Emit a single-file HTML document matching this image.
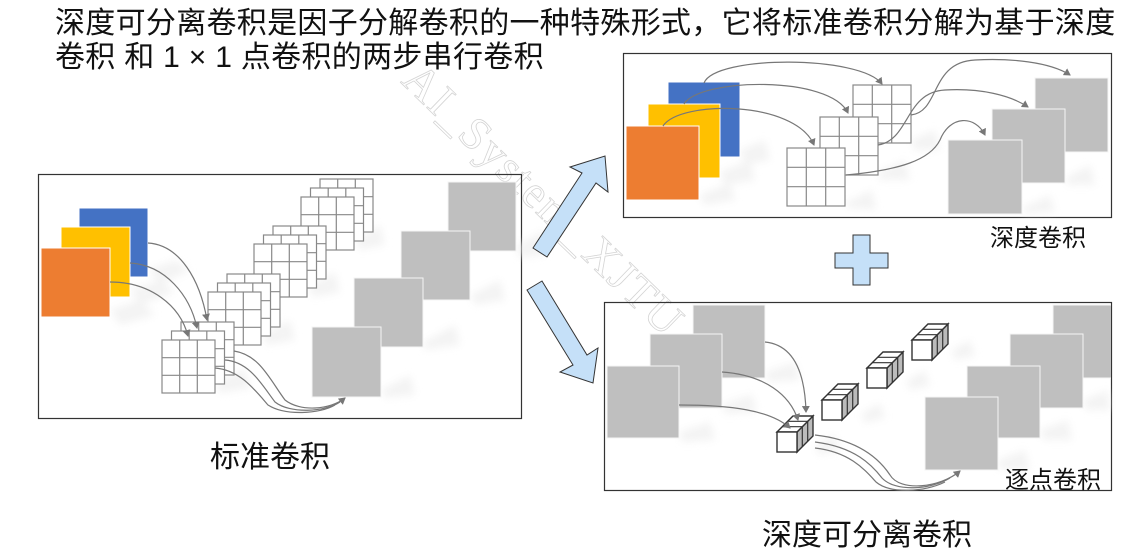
<!DOCTYPE html>
<html><head><meta charset="utf-8">
<style>
html,body{margin:0;padding:0;background:#fff;}
body{width:1145px;height:552px;overflow:hidden;position:relative;font-family:"Liberation Sans","Noto Sans CJK SC",sans-serif;}
.t{position:absolute;color:#111;white-space:nowrap;}
</style></head><body>
<div class="t" style="left:55px;top:7px;font-size:30px;letter-spacing:0.3px;line-height:34px;">深度可分离卷积是因子分解卷积的一种特殊形式，它将标准卷积分解为基于深度<br>卷积 和 1 × 1 点卷积的两步串行卷积</div>
<svg width="1145" height="552" style="position:absolute;left:0;top:0" xmlns="http://www.w3.org/2000/svg">
<defs>
<filter id="bl" x="-50%" y="-50%" width="200%" height="200%"><feGaussianBlur stdDeviation="4"/></filter>
<marker id="ah" markerWidth="8" markerHeight="8" refX="6" refY="4" orient="auto" markerUnits="userSpaceOnUse"><path d="M0,0 L7,4 L0,8 z" fill="#777"/></marker>
<g id="g53">
<rect x="0" y="0" width="53" height="53" fill="#fff" stroke="#888" stroke-width="1.2"/>
<path d="M17.7,0V53M35.3,0V53M0,17.7H53M0,35.3H53" stroke="#888" stroke-width="1.2"/>
</g>
<g id="g58">
<rect x="0" y="0" width="58" height="58" fill="#fff" stroke="#888" stroke-width="1.2"/>
<path d="M19.3,0V58M38.7,0V58M0,19.3H58M0,38.7H58" stroke="#888" stroke-width="1.2"/>
</g>
<g id="stk">
<use href="#g53" x="19" y="-18"/><use href="#g53" x="9.5" y="-9"/><use href="#g53" x="0" y="0"/>
</g>
<g id="cube">
<path d="M20,0 L36,-16 L36,4 L20,20 z" fill="#bbb" stroke="#333" stroke-width="1.4"/>
<path d="M25.3,-5.3 V14.7 M30.7,-10.7 V9.3" stroke="#333" stroke-width="1.2"/>
<path d="M0,0 L16,-16 L36,-16 L20,0 z" fill="#fff" stroke="#333" stroke-width="1.4"/>
<path d="M5.3,-5.3 H25.3 M10.7,-10.7 H30.7" stroke="#333" stroke-width="1.2"/>
<rect x="0" y="0" width="20" height="20" fill="#fff" stroke="#333" stroke-width="1.4"/>
</g>
</defs>

<!-- watermark -->
<text x="0" y="0" transform="translate(400,82) rotate(44)" font-family="Liberation Serif,serif" font-size="46" fill="none" stroke="#d4d4d4" stroke-width="0.8" letter-spacing="2">AI_System_XJTU</text>

<!-- Left panel -->
<rect x="38.5" y="174.5" width="483" height="244" fill="none" stroke="#333" stroke-width="1.2"/>
<g fill="#ececec" opacity="0.6" filter="url(#bl)">
<path d="M148,270 L175,260 L190,270 L160,285z"/><path d="M130,290 L160,280 L175,292 L140,305z"/><path d="M110,310 L140,300 L155,315 L120,325z"/>
<path d="M516,245 L545,230 L545,255 L520,258z"/><path d="M470,295 L500,280 L505,300 L475,305z"/><path d="M423,342 L455,325 L460,345 L425,350z"/><path d="M381,390 L410,375 L415,395 L385,398z"/>
<path d="M355,240 L380,225 L385,245 L360,250z"/><path d="M308,287 L335,272 L340,292 L313,297z"/><path d="M262,335 L290,320 L295,340 L267,345z"/><path d="M215,383 L245,368 L250,388 L220,393z"/>
</g>
<rect x="79" y="208" width="69" height="69" fill="#4472c4" stroke="#fff" stroke-width="1"/>
<rect x="61" y="227" width="69" height="70" fill="#ffc000" stroke="#fff" stroke-width="1"/>
<rect x="41" y="248" width="69" height="69" fill="#ed7d31" stroke="#fff" stroke-width="1"/>
<use href="#stk" x="301" y="197"/>
<use href="#stk" x="254" y="244"/>
<use href="#stk" x="208" y="292"/>
<use href="#stk" x="162" y="340"/>
<rect x="448" y="182" width="68" height="69" fill="#bfbfbf" stroke="#f4f4f4"/>
<rect x="401" y="231" width="69" height="69" fill="#bfbfbf" stroke="#f4f4f4"/>
<rect x="354" y="278" width="69" height="69" fill="#bfbfbf" stroke="#f4f4f4"/>
<rect x="312" y="327" width="69" height="70" fill="#bfbfbf" stroke="#f4f4f4"/>
<g fill="none" stroke="#777" stroke-width="1.2">
<path d="M148,243 C180,245 200,280 207,320" marker-end="url(#ah)"/>
<path d="M130,263 C165,265 190,295 197,328" marker-end="url(#ah)"/>
<path d="M110,282 C150,282 180,305 188,336" marker-end="url(#ah)"/>
<path d="M234,351 C260,355 270,380 285,400 C300,412 330,410 345,398" marker-end="url(#ah)"/>
<path d="M225,360 C250,362 262,385 275,402 C290,414 325,412 340,402"/>
<path d="M215,368 C240,370 255,390 268,405 C285,416 320,414 335,405"/>
</g>

<!-- Arrows -->
<path d="M533,248 L582,173 L570,167 L605,156 L608,192 L596,183 L547,257 z" fill="#c5e0f8" stroke="#333" stroke-width="1"/>
<path d="M527,290 L573,365 L560,372 L593,383 L598,348 L587,355 L542,281 z" fill="#c5e0f8" stroke="#333" stroke-width="1"/>
<!-- Plus -->
<path d="M853,235 H870 V253 H888 V268 H870 V285 H853 V268 H835 V253 H853 z" fill="#c5e0f8" stroke="#333" stroke-width="1"/>

<!-- Top right panel -->
<rect x="623.5" y="53.5" width="488" height="164" fill="none" stroke="#333" stroke-width="1.2"/>
<g fill="#ececec" opacity="0.6" filter="url(#bl)">
<path d="M740,150 L765,140 L770,160 L745,165z"/><path d="M720,172 L750,160 L755,180 L725,185z"/><path d="M699,195 L730,183 L735,200 L705,205z"/>
<path d="M911,140 L935,130 L940,150 L915,150z"/><path d="M878,172 L905,160 L910,180 L880,180z"/><path d="M845,203 L872,190 L876,210 L848,208z"/>
<path d="M1065,178 L1090,165 L1095,185 L1068,185z"/><path d="M1022,208 L1050,195 L1055,212 L1025,214z"/>
</g>
<rect x="668" y="82" width="72" height="75" fill="#4472c4" stroke="#fff"/>
<rect x="648" y="104" width="72" height="74" fill="#ffc000" stroke="#fff"/>
<rect x="626" y="126" width="73" height="74" fill="#ed7d31" stroke="#fff"/>
<use href="#g58" x="853" y="85"/>
<use href="#g58" x="820" y="117"/>
<use href="#g58" x="787" y="148"/>
<rect x="1035" y="78" width="73" height="74" fill="#bfbfbf" stroke="#f4f4f4"/>
<rect x="992" y="109" width="73" height="74" fill="#bfbfbf" stroke="#f4f4f4"/>
<rect x="948" y="140" width="74" height="74" fill="#bfbfbf" stroke="#f4f4f4"/>
<g fill="none" stroke="#777" stroke-width="1.2">
<path d="M704,83 C715,55 860,55 882,84" marker-end="url(#ah)"/>
<path d="M684,104 C700,78 830,75 848,113" marker-end="url(#ah)"/>
<path d="M663,126 C680,100 795,100 814,145" marker-end="url(#ah)"/>
<path d="M911,115 C940,112 930,62 975,60 C1010,58 1050,62 1070,75" marker-end="url(#ah)"/>
<path d="M878,145 C910,140 905,92 945,90 C980,88 1010,95 1028,107" marker-end="url(#ah)"/>
<path d="M846,175 C900,170 930,160 940,140 C950,115 975,115 985,135" marker-end="url(#ah)"/>
</g>
<text x="990" y="246" font-size="24" fill="#111" font-family="Liberation Sans,Noto Sans CJK SC,sans-serif">深度卷积</text>

<!-- Bottom right panel -->
<rect x="604.5" y="302.5" width="507" height="188" fill="none" stroke="#333" stroke-width="1.2"/>
<g fill="#ececec" opacity="0.6" filter="url(#bl)">
<path d="M765,372 L795,362 L800,380 L768,382z"/><path d="M722,404 L752,394 L757,412 L725,414z"/><path d="M679,432 L710,422 L715,440 L682,442z"/>
<path d="M998,460 L1025,450 L1030,470 L1000,470z"/><path d="M1040,430 L1068,420 L1072,440 L1043,440z"/><path d="M1083,400 L1108,390 L1110,410 L1086,410z"/>
<path d="M816,445 L835,435 L840,450 L818,455z"/><path d="M862,413 L880,403 L885,418 L864,423z"/><path d="M907,380 L925,370 L930,386 L909,390z"/><path d="M952,350 L970,340 L975,356 L954,360z"/>
</g>
<rect x="693" y="305" width="72" height="73" fill="#bfbfbf" stroke="#f4f4f4"/>
<rect x="650" y="334" width="72" height="74" fill="#bfbfbf" stroke="#f4f4f4"/>
<rect x="607" y="366" width="72" height="72" fill="#bfbfbf" stroke="#f4f4f4"/>
<use href="#cube" x="912" y="340"/>
<use href="#cube" x="867" y="368"/>
<use href="#cube" x="822" y="400"/>
<use href="#cube" x="777" y="432"/>
<svg x="604" y="302" width="507" height="188" overflow="hidden">
<rect x="449" y="3" width="73" height="73" fill="#bfbfbf" stroke="#f4f4f4"/>
</svg>
<rect x="1010" y="334" width="73" height="74" fill="#bfbfbf" stroke="#f4f4f4"/>
<rect x="967" y="366" width="73" height="72" fill="#bfbfbf" stroke="#f4f4f4"/>
<rect x="925" y="397" width="73" height="73" fill="#bfbfbf" stroke="#f4f4f4"/>
<g fill="none" stroke="#777" stroke-width="1.2">
<path d="M765,342 C795,345 805,375 806,412" marker-end="url(#ah)"/>
<path d="M722,372 C765,375 790,395 798,420" marker-end="url(#ah)"/>
<path d="M679,405 C730,405 770,410 790,428" marker-end="url(#ah)"/>
<path d="M815,435 C860,440 880,460 890,475 C900,492 940,488 960,471" marker-end="url(#ah)"/>
<path d="M815,442 C855,447 872,465 882,478 C895,492 930,490 950,478"/>
<path d="M815,448 C850,452 865,470 876,482 C890,494 925,492 945,482"/>
</g>
<text x="1005" y="488" font-size="24" fill="#111" font-family="Liberation Sans,Noto Sans CJK SC,sans-serif">逐点卷积</text>
</svg>
<div class="t" style="left:210px;top:432px;font-size:30px;">标准卷积</div>
<div class="t" style="left:762px;top:510px;font-size:30px;">深度可分离卷积</div>
</body></html>
